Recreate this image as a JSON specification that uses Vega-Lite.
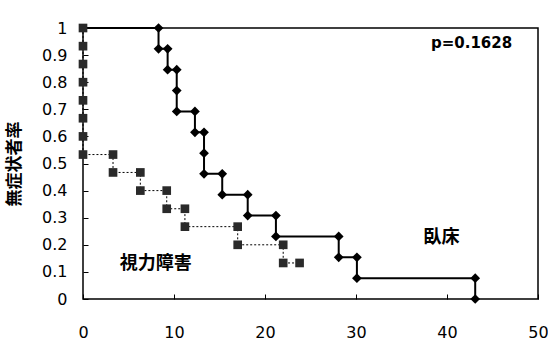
{
  "$schema": "https://vega.github.io/schema/vega-lite/v6.json",
  "width": 455,
  "height": 271,
  "autosize": {"type": "none"},
  "padding": {"left": 83, "top": 28, "right": 10, "bottom": 46},
  "background": "white",
  "config": {
    "view": {"stroke": "black", "strokeWidth": 1.5},
    "axis": {
      "grid": false,
      "domain": false,
      "labelFont": "DejaVu Sans",
      "labelFontSize": 16,
      "labelColor": "black",
      "labelOverlap": false,
      "tickColor": "black",
      "tickSize": -5,
      "tickWidth": 1
    }
  },
  "datasets": {
    "km": [
      {"series": "臥床", "i": 0, "t": 0, "s": 1, "m": false},
      {"series": "臥床", "i": 1, "t": 8.3, "s": 1, "m": true},
      {"series": "臥床", "i": 2, "t": 8.3, "s": 0.923, "m": true},
      {"series": "臥床", "i": 3, "t": 9.3, "s": 0.923, "m": true},
      {"series": "臥床", "i": 4, "t": 9.3, "s": 0.846, "m": true},
      {"series": "臥床", "i": 5, "t": 10.3, "s": 0.846, "m": true},
      {"series": "臥床", "i": 6, "t": 10.3, "s": 0.769, "m": true},
      {"series": "臥床", "i": 7, "t": 10.3, "s": 0.692, "m": true},
      {"series": "臥床", "i": 8, "t": 12.3, "s": 0.692, "m": true},
      {"series": "臥床", "i": 9, "t": 12.3, "s": 0.615, "m": true},
      {"series": "臥床", "i": 10, "t": 13.3, "s": 0.615, "m": true},
      {"series": "臥床", "i": 11, "t": 13.3, "s": 0.538, "m": true},
      {"series": "臥床", "i": 12, "t": 13.3, "s": 0.462, "m": true},
      {"series": "臥床", "i": 13, "t": 15.3, "s": 0.462, "m": true},
      {"series": "臥床", "i": 14, "t": 15.3, "s": 0.385, "m": true},
      {"series": "臥床", "i": 15, "t": 18.1, "s": 0.385, "m": true},
      {"series": "臥床", "i": 16, "t": 18.1, "s": 0.308, "m": true},
      {"series": "臥床", "i": 17, "t": 21.2, "s": 0.308, "m": true},
      {"series": "臥床", "i": 18, "t": 21.2, "s": 0.231, "m": true},
      {"series": "臥床", "i": 19, "t": 28.1, "s": 0.231, "m": true},
      {"series": "臥床", "i": 20, "t": 28.1, "s": 0.154, "m": true},
      {"series": "臥床", "i": 21, "t": 30.1, "s": 0.154, "m": true},
      {"series": "臥床", "i": 22, "t": 30.1, "s": 0.077, "m": true},
      {"series": "臥床", "i": 23, "t": 43.1, "s": 0.077, "m": true},
      {"series": "臥床", "i": 24, "t": 43.1, "s": 0, "m": true},
      {"series": "視力障害", "i": 0, "t": 0, "s": 1, "m": true},
      {"series": "視力障害", "i": 1, "t": 0, "s": 0.933, "m": true},
      {"series": "視力障害", "i": 2, "t": 0, "s": 0.867, "m": true},
      {"series": "視力障害", "i": 3, "t": 0, "s": 0.8, "m": true},
      {"series": "視力障害", "i": 4, "t": 0, "s": 0.733, "m": true},
      {"series": "視力障害", "i": 5, "t": 0, "s": 0.667, "m": true},
      {"series": "視力障害", "i": 6, "t": 0, "s": 0.6, "m": true},
      {"series": "視力障害", "i": 7, "t": 0, "s": 0.533, "m": true},
      {"series": "視力障害", "i": 8, "t": 3.3, "s": 0.533, "m": true},
      {"series": "視力障害", "i": 9, "t": 3.3, "s": 0.467, "m": true},
      {"series": "視力障害", "i": 10, "t": 6.3, "s": 0.467, "m": true},
      {"series": "視力障害", "i": 11, "t": 6.3, "s": 0.4, "m": true},
      {"series": "視力障害", "i": 12, "t": 9.2, "s": 0.4, "m": true},
      {"series": "視力障害", "i": 13, "t": 9.2, "s": 0.333, "m": true},
      {"series": "視力障害", "i": 14, "t": 11.2, "s": 0.333, "m": true},
      {"series": "視力障害", "i": 15, "t": 11.2, "s": 0.267, "m": true},
      {"series": "視力障害", "i": 16, "t": 17.0, "s": 0.267, "m": true},
      {"series": "視力障害", "i": 17, "t": 17.0, "s": 0.2, "m": true},
      {"series": "視力障害", "i": 18, "t": 22.0, "s": 0.2, "m": true},
      {"series": "視力障害", "i": 19, "t": 22.0, "s": 0.133, "m": true},
      {"series": "視力障害", "i": 20, "t": 23.8, "s": 0.133, "m": true}
    ],
    "notes": [
      {"label": "p=0.1628", "t": 42.7, "s": 0.945},
      {"label": "視力障害", "t": 8.0, "s": 0.13},
      {"label": "臥床", "t": 39.4, "s": 0.225}
    ]
  },
  "encoding": {
    "x": {
      "field": "t", "type": "quantitative",
      "scale": {"domain": [0, 50], "nice": false},
      "axis": {
        "title": null,
        "values": [0, 10, 20, 30, 40, 50],
        "labelPadding": 30,
        "labelFlush": false,
        "labelOverlap": false
      }
    },
    "y": {
      "field": "s", "type": "quantitative",
      "scale": {"domain": [0, 1], "nice": false},
      "axis": {
        "title": "無症状者率",
        "titleFont": "Noto Sans CJK JP",
        "titleFontSize": 17,
        "titleFontWeight": "bold",
        "titleColor": "black",
        "titlePadding": 18,
        "values": [0, 0.1, 0.2, 0.3, 0.4, 0.5, 0.6, 0.7, 0.8, 0.9, 1],
        "format": "~g",
        "labelPadding": 21,
        "labelFlush": false,
        "labelOverlap": false
      }
    }
  },
  "layer": [
    {
      "data": {"name": "km"},
      "transform": [{"filter": "datum.series == '視力障害'"}],
      "mark": {"type": "line", "color": "black", "strokeWidth": 1, "strokeDash": [2, 2]},
      "encoding": {
        "order": {"field": "i", "type": "quantitative"}
      }
    },
    {
      "data": {"name": "km"},
      "transform": [{"filter": "datum.series == '臥床'"}],
      "mark": {"type": "line", "color": "black", "strokeWidth": 2},
      "encoding": {
        "order": {"field": "i", "type": "quantitative"}
      }
    },
    {
      "data": {"name": "km"},
      "transform": [{"filter": "datum.series == '視力障害' && datum.m"}],
      "mark": {"type": "point", "shape": "square", "filled": true, "color": "#2a2a2a", "size": 75, "opacity": 1},
      "encoding": {}
    },
    {
      "data": {"name": "km"},
      "transform": [{"filter": "datum.series == '臥床' && datum.m"}],
      "mark": {"type": "point", "shape": "diamond", "filled": true, "color": "black", "size": 95, "opacity": 1},
      "encoding": {}
    },
    {
      "data": {"name": "notes"},
      "transform": [{"filter": "datum.label == 'p=0.1628'"}],
      "mark": {"type": "text", "font": "DejaVu Sans", "fontSize": 15, "fontWeight": "bold", "color": "black"},
      "encoding": {
        "text": {"field": "label"}
      }
    },
    {
      "data": {"name": "notes"},
      "transform": [{"filter": "datum.label != 'p=0.1628'"}],
      "mark": {"type": "text", "font": "Noto Sans CJK JP", "fontSize": 18, "fontWeight": "bold", "color": "black"},
      "encoding": {
        "text": {"field": "label"}
      }
    }
  ]
}
